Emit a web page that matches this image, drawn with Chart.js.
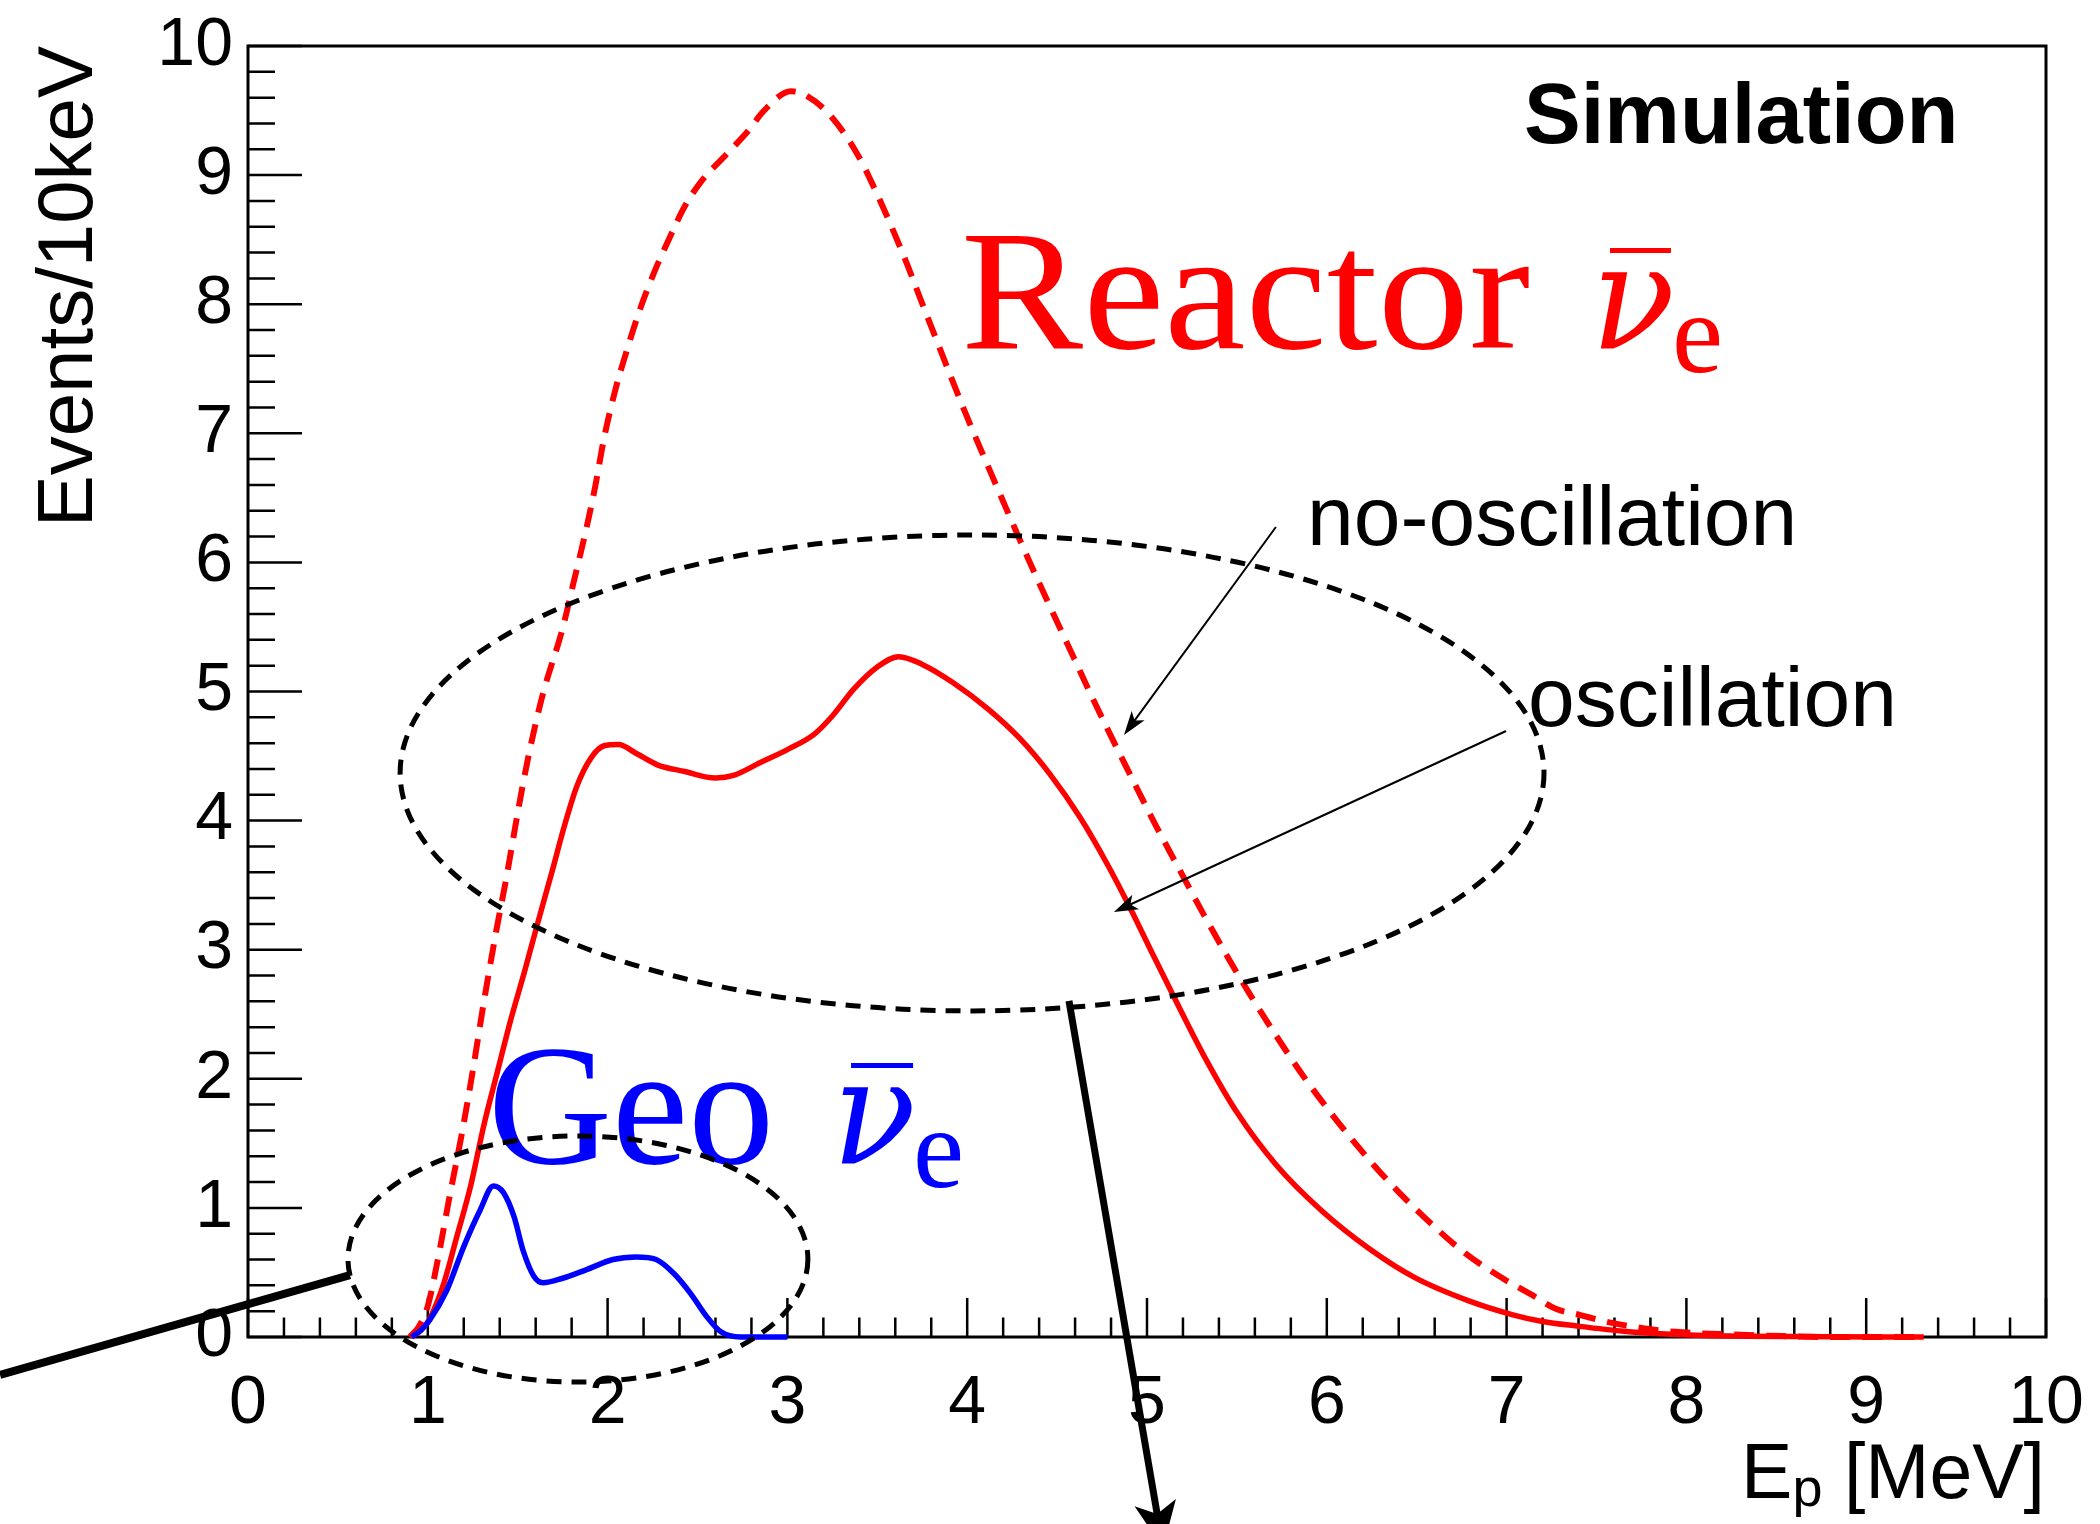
<!DOCTYPE html>
<html>
<head>
<meta charset="utf-8">
<script src="https://cdn.jsdelivr.net/npm/chart.js@4.4.1/dist/chart.umd.min.js"></script>
<style>
  html, body { margin: 0; padding: 0; background: #ffffff; }
  #wrap { width: 2100px; height: 1524px; position: relative; }
</style>
</head>
<body>
<div id="wrap"><canvas id="c" width="2100" height="1524"></canvas></div>
<script>
// Prompt-energy spectra (events per 10 keV)
const energyNoOsc = [0.90, 0.95, 1.00, 1.06, 1.12, 1.19, 1.25, 1.31, 1.38, 1.44, 1.50, 1.56, 1.64, 1.75, 1.81, 1.87, 1.93, 1.98, 2.04, 2.10, 2.18, 2.26, 2.34, 2.43, 2.52, 2.66, 2.78, 2.87, 3.02, 3.10, 3.24, 3.39, 3.48, 3.57, 3.66, 3.74, 3.83, 3.92, 4.01, 4.12, 4.21, 4.31, 4.40, 4.51, 4.61, 4.69, 4.78, 4.93, 5.05, 5.20, 5.32, 5.45, 5.57, 5.72, 5.87, 6.02, 6.17, 6.34, 6.54, 6.76, 6.96, 7.16, 7.27, 7.41, 7.55, 7.66, 7.80, 7.94, 8.05, 8.24, 8.46, 8.80, 9.32];
const eventsNoOsc = [0.00, 0.08, 0.24, 0.63, 1.08, 1.58, 2.06, 2.58, 3.14, 3.58, 4.06, 4.50, 4.98, 5.49, 5.84, 6.19, 6.58, 6.96, 7.32, 7.61, 7.96, 8.25, 8.50, 8.76, 8.95, 9.16, 9.34, 9.50, 9.65, 9.62, 9.46, 9.16, 8.91, 8.63, 8.33, 8.04, 7.72, 7.40, 7.09, 6.73, 6.44, 6.12, 5.84, 5.51, 5.21, 4.97, 4.71, 4.29, 3.96, 3.57, 3.26, 2.94, 2.66, 2.33, 2.02, 1.74, 1.48, 1.21, 0.93, 0.66, 0.47, 0.31, 0.22, 0.17, 0.12, 0.09, 0.06, 0.04, 0.03, 0.02, 0.01, 0.00, 0.00];

const energyOsc = [0.91, 0.96, 1.01, 1.09, 1.16, 1.24, 1.31, 1.39, 1.46, 1.54, 1.61, 1.69, 1.76, 1.83, 1.91, 1.98, 2.06, 2.16, 2.28, 2.43, 2.60, 2.70, 2.85, 3.00, 3.15, 3.25, 3.37, 3.50, 3.62, 3.75, 3.92, 4.12, 4.29, 4.46, 4.63, 4.78, 4.90, 5.03, 5.18, 5.32, 5.50, 5.72, 5.97, 6.24, 6.49, 6.79, 7.04, 7.20, 7.39, 7.65, 7.94, 8.33, 9.32];
const eventsOsc = [0.00, 0.05, 0.14, 0.42, 0.77, 1.18, 1.63, 2.07, 2.45, 2.84, 3.20, 3.60, 3.96, 4.27, 4.49, 4.58, 4.59, 4.52, 4.43, 4.38, 4.33, 4.35, 4.45, 4.55, 4.67, 4.81, 5.02, 5.19, 5.27, 5.21, 5.07, 4.86, 4.64, 4.36, 4.02, 3.66, 3.34, 2.97, 2.55, 2.17, 1.74, 1.33, 0.98, 0.68, 0.46, 0.28, 0.17, 0.12, 0.085, 0.045, 0.02, 0.005, 0.00];

const energyGeo = [0.91, 0.96, 1.01, 1.105, 1.20, 1.29, 1.365, 1.42, 1.48, 1.53, 1.59, 1.64, 1.75, 1.88, 2.03, 2.16, 2.27, 2.37, 2.46, 2.55, 2.63, 2.74, 3.00];
const eventsGeo = [0.00, 0.05, 0.13, 0.36, 0.70, 0.98, 1.17, 1.12, 0.93, 0.67, 0.47, 0.42, 0.455, 0.52, 0.60, 0.62, 0.60, 0.49, 0.34, 0.16, 0.04, 0.00, 0.00];

// Axis tick labels
const xTickLabels = ['0', '1', '2', '3', '4', '5', '6', '7', '8', '9', '10'];
const yTickLabels = ['0', '1', '2', '3', '4', '5', '6', '7', '8', '9', '10'];

const toPoints = (xs, ys) => xs.map((x, i) => ({ x: x, y: ys[i] }));

const SANS = "'Liberation Sans', Arial, Helvetica, sans-serif";
const SERIF = "'Liberation Serif', 'Times New Roman', serif";
const GREEK = "'DejaVu Serif', 'Liberation Serif', serif";

// Frame, inward ticks and axis titles (ROOT style)
const framePlugin = {
  id: 'frame',
  beforeDatasetsDraw(chart) {
    const { ctx, chartArea: a, scales: { x, y } } = chart;
    ctx.save();
    ctx.strokeStyle = '#000';
    ctx.lineWidth = 3;
    ctx.strokeRect(a.left, a.top, a.right - a.left, a.bottom - a.top);

    ctx.lineWidth = 2.5;
    ctx.beginPath();
    for (let i = 0; i <= 50; i++) {
      const v = i * 0.2;
      const major = i % 5 === 0;
      const px = x.getPixelForValue(v);
      const lx = major ? 39 : 19.5;
      ctx.moveTo(px, a.bottom);
      ctx.lineTo(px, a.bottom - lx);
      const py = y.getPixelForValue(v);
      const ly = major ? 54 : 27;
      ctx.moveTo(a.left, py);
      ctx.lineTo(a.left + ly, py);
    }
    ctx.stroke();

    ctx.fillStyle = '#000';
    // y title
    ctx.save();
    ctx.translate(92, a.top);
    ctx.rotate(-Math.PI / 2);
    ctx.font = '78px ' + SANS;
    ctx.textAlign = 'right';
    ctx.textBaseline = 'alphabetic';
    ctx.fillText('Events/10keV', 0, 0);
    ctx.restore();

    // x title: E_p [MeV]
    ctx.textBaseline = 'alphabetic';
    ctx.textAlign = 'left';
    ctx.font = '77px ' + SANS;
    const tail = ' [MeV]';
    const wTail = ctx.measureText(tail).width;
    const wE = ctx.measureText('E').width;
    ctx.font = '54px ' + SANS;
    const wP = ctx.measureText('p').width;
    const xEnd = a.right - 1;
    const baseX = 1498;
    ctx.font = '77px ' + SANS;
    ctx.fillText(tail, xEnd - wTail, baseX);
    ctx.fillText('E', xEnd - wTail - wP - wE, baseX);
    ctx.font = '54px ' + SANS;
    ctx.fillText('p', xEnd - wTail - wP, baseX + 8);
    ctx.restore();
  },
  afterDatasetsDraw(chart) {
    const { ctx, scales: { x, y } } = chart;
    const X = v => x.getPixelForValue(v);
    const Y = v => y.getPixelForValue(v);
    ctx.save();

    // "Simulation"
    ctx.fillStyle = '#000';
    ctx.textBaseline = 'alphabetic';
    ctx.textAlign = 'left';
    ctx.font = 'bold 85px ' + SANS;
    ctx.fillText('Simulation', X(7.097), Y(9.249));

    // annotation labels
    ctx.font = '84px ' + SANS;
    ctx.fillText('no-oscillation', X(5.890), Y(6.135));
    ctx.fillText('oscillation', X(7.119), Y(4.733));

    const fitText = (txt, px, py, target) => {
      const w = ctx.measureText(txt).width;
      ctx.save();
      ctx.translate(px, py);
      ctx.scale(target / w, 1);
      ctx.fillText(txt, 0, 0);
      ctx.restore();
    };
    const nuBar = (word, wx, wy, target, nuX, barX0, barX1, barY, subX, subY, color) => {
      ctx.fillStyle = color;
      ctx.strokeStyle = color;
      ctx.font = '172px ' + SERIF;
      fitText(word, X(wx), Y(wy), target);
      ctx.font = 'italic 146px ' + GREEK;
      fitText('\u03BD', X(nuX), Y(wy), 84);
      ctx.font = '115px ' + SERIF;
      ctx.fillText('e', X(subX), Y(subY));
      ctx.lineWidth = 5;
      ctx.beginPath();
      ctx.moveTo(X(barX0), Y(barY));
      ctx.lineTo(X(barX1), Y(barY));
      ctx.stroke();
    };
    nuBar('Reactor', 3.966, 7.661, 569, 7.470, 7.575, 7.914, 8.416, 7.920, 7.475, '#ff0000');
    nuBar('Geo', 1.335, 1.348, 286, 3.248, 3.354, 3.699, 2.103, 3.699, 1.162, '#0000ff');

    // dashed ellipses around the regions
    ctx.strokeStyle = '#000';
    ctx.lineWidth = 5;
    ctx.setLineDash([15, 10]);
    const ell = (cx, cy, rx, ry) => {
      ctx.beginPath();
      ctx.ellipse(X(cx), Y(cy), X(cx + rx) - X(cx), Y(cy) - Y(cy + ry), 0, 0, Math.PI * 2);
      ctx.stroke();
    };
    ell(4.027, 4.369, 3.181, 1.843);
    ell(1.835, 0.604, 1.279, 0.953);
    ctx.setLineDash([]);

    // arrows
    const arrow = (x1, y1, x2, y2, lw, hl, hw) => {
      const p1 = [X(x1), Y(y1)], p2 = [X(x2), Y(y2)];
      const ang = Math.atan2(p2[1] - p1[1], p2[0] - p1[0]);
      const c = Math.cos(ang), s = Math.sin(ang);
      const bx = p2[0] - hl * c, by = p2[1] - hl * s;
      ctx.lineWidth = lw;
      ctx.lineCap = 'butt';
      ctx.beginPath();
      ctx.moveTo(p1[0], p1[1]);
      ctx.lineTo(p2[0] - hl * 0.6 * c, p2[1] - hl * 0.6 * s);
      ctx.stroke();
      if (hl > 0) {
        ctx.beginPath();
        ctx.moveTo(p2[0], p2[1]);
        ctx.lineTo(bx + hw * s, by - hw * c);
        ctx.lineTo(p2[0] - hl * 0.75 * c, p2[1] - hl * 0.75 * s);
        ctx.lineTo(bx - hw * s, by + hw * c);
        ctx.closePath();
        ctx.fill();
      }
    };
    ctx.fillStyle = '#000';
    arrow(5.717, 6.274, 4.872, 4.663, 2, 24, 8);
    arrow(6.997, 4.694, 4.816, 3.292, 2, 24, 8);
    arrow(-1.379, -0.294, 0.567, 0.480, 8, 0, 0);
    arrow(4.566, 2.603, 5.089, -1.634, 7, 46, 21);
    ctx.restore();
  }
};

new Chart(document.getElementById('c'), {
  type: 'line',
  data: {
    datasets: [
      {
        label: 'Geo',
        data: toPoints(energyGeo, eventsGeo),
        borderColor: '#0000ff',
        borderWidth: 5.5,
        pointRadius: 0,
        cubicInterpolationMode: 'monotone',
        fill: false,
        clip: false,
        order: 0
      },
      {
        label: 'oscillation',
        data: toPoints(energyOsc, eventsOsc),
        borderColor: '#ff0000',
        borderWidth: 5.5,
        pointRadius: 0,
        cubicInterpolationMode: 'monotone',
        fill: false,
        clip: false,
        order: 1
      },
      {
        label: 'no-oscillation',
        data: toPoints(energyNoOsc, eventsNoOsc),
        borderColor: '#ff0000',
        borderWidth: 6,
        borderDash: [20, 12],
        pointRadius: 0,
        cubicInterpolationMode: 'monotone',
        fill: false,
        clip: false,
        order: 2
      }
    ]
  },
  options: {
    responsive: false,
    animation: false,
    devicePixelRatio: 1,
    layout: { padding: { top: 46, right: 54, left: 0, bottom: 0 } },
    plugins: { legend: { display: false }, tooltip: { enabled: false } },
    scales: {
      x: {
        type: 'linear',
        min: 0,
        max: 10,
        afterBuildTicks: s => { s.ticks = xTickLabels.map(t => ({ value: Number(t) })); },
        afterFit: s => { s.height = 187; s.paddingLeft = 0; s.paddingRight = 0; },
        ticks: {
          autoSkip: false,
          maxRotation: 0,
          padding: 26,
          color: '#000',
          font: { family: SANS, size: 68 },
          callback: (v, i) => xTickLabels[i]
        },
        grid: { display: false, drawTicks: false },
        border: { display: false }
      },
      y: {
        type: 'linear',
        min: 0,
        max: 10,
        afterBuildTicks: s => { s.ticks = yTickLabels.map(t => ({ value: Number(t) })); },
        afterFit: s => { s.width = 248; s.paddingTop = 0; s.paddingBottom = 0; },
        ticks: {
          autoSkip: false,
          padding: 15,
          color: '#000',
          font: { family: SANS, size: 68 },
          callback: (v, i) => yTickLabels[i]
        },
        grid: { display: false, drawTicks: false },
        border: { display: false }
      }
    }
  },
  plugins: [framePlugin]
});
</script>
</body>
</html>
